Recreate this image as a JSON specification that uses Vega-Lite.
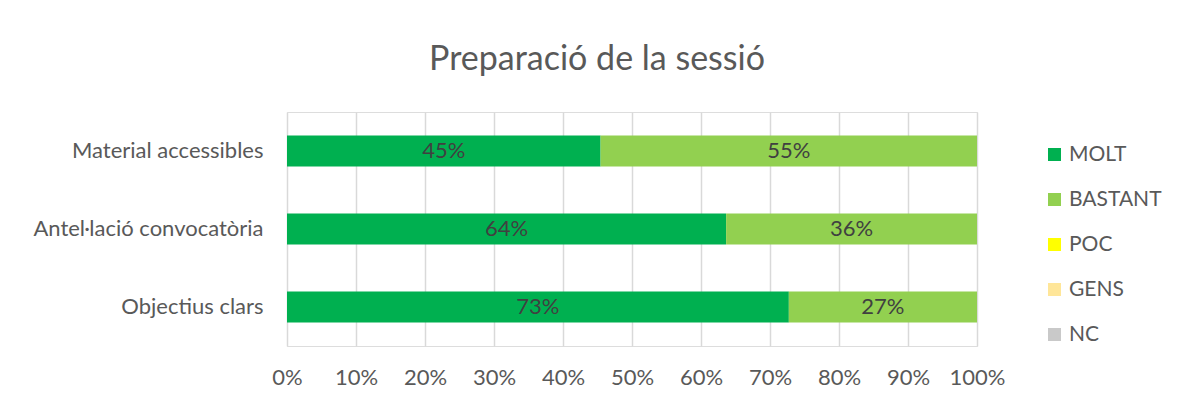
{
  "$schema": "https://vega.github.io/schema/vega-lite/v6.json",
  "autosize": "none",
  "width": 690,
  "height": 234,
  "padding": {"left": 287, "top": 112, "right": 201, "bottom": 57},
  "background": "white",
  "title": {
    "text": "Preparació de la sessió",
    "font": "Lato",
    "fontSize": 34,
    "fontWeight": "normal",
    "color": "#595959",
    "anchor": "middle",
    "dx": -35,
    "offset": 35
  },
  "data": {
    "values": [
      {"pregunta": "Material accessibles", "resposta": "MOLT", "valor": 0.4545},
      {"pregunta": "Material accessibles", "resposta": "BASTANT", "valor": 0.5455},
      {"pregunta": "Antel·lació convocatòria", "resposta": "MOLT", "valor": 0.6364},
      {"pregunta": "Antel·lació convocatòria", "resposta": "BASTANT", "valor": 0.3636},
      {"pregunta": "Objectius clars", "resposta": "MOLT", "valor": 0.7273},
      {"pregunta": "Objectius clars", "resposta": "BASTANT", "valor": 0.2727}
    ]
  },
  "encoding": {
    "y": {
      "field": "pregunta",
      "type": "nominal",
      "sort": ["Material accessibles", "Antel·lació convocatòria", "Objectius clars"],
      "scale": {"paddingInner": 0.6, "paddingOuter": 0.3},
      "axis": {
        "title": null,
        "domain": false,
        "ticks": false,
        "labelPadding": 24,
        "labelLimit": 400,
        "labelFont": "Lato",
        "labelFontSize": 22,
        "labelColor": "#595959"
      }
    },
    "x": {
      "field": "valor",
      "type": "quantitative",
      "stack": "zero",
      "scale": {"domain": [0, 1], "nice": false},
      "axis": {
        "title": null,
        "format": ".0%",
        "values": [0, 0.1, 0.2, 0.3, 0.4, 0.5, 0.6, 0.7, 0.8, 0.9, 1],
        "domain": false,
        "ticks": false,
        "grid": true,
        "gridColor": "#D9D9D9",
        "gridWidth": 1.5,
        "labelFlush": false,
        "labelPadding": 21,
        "labelFont": "Lato",
        "labelFontSize": 22,
        "labelColor": "#595959"
      }
    },
    "order": {"field": "resposta", "type": "nominal", "sort": "descending"}
  },
  "layer": [
    {
      "mark": {"type": "bar"},
      "encoding": {
        "color": {
          "field": "resposta",
          "type": "nominal",
          "sort": ["MOLT", "BASTANT", "POC", "GENS", "NC"],
          "scale": {
            "domain": ["MOLT", "BASTANT", "POC", "GENS", "NC"],
            "range": ["#00B050", "#92D050", "#FFFF00", "#FFE699", "#C9C9C9"]
          },
          "legend": {
            "title": null,
            "orient": "none",
            "legendX": 757,
            "legendY": 32,
            "padding": 0,
            "symbolType": "square",
            "symbolSize": 169,
            "symbolStrokeWidth": 0,
            "labelFont": "Lato",
            "labelFontSize": 21,
            "labelColor": "#595959",
            "labelOffset": 4,
            "rowPadding": 23
          }
        }
      }
    },
    {
      "mark": {"type": "text", "font": "Lato", "fontSize": 22, "color": "#404040"},
      "encoding": {
        "x": {"field": "valor", "type": "quantitative", "stack": "zero", "bandPosition": 0.5},
        "detail": {"field": "resposta", "type": "nominal"},
        "text": {"field": "valor", "type": "quantitative", "format": ".0%"}
      }
    }
  ]
}
